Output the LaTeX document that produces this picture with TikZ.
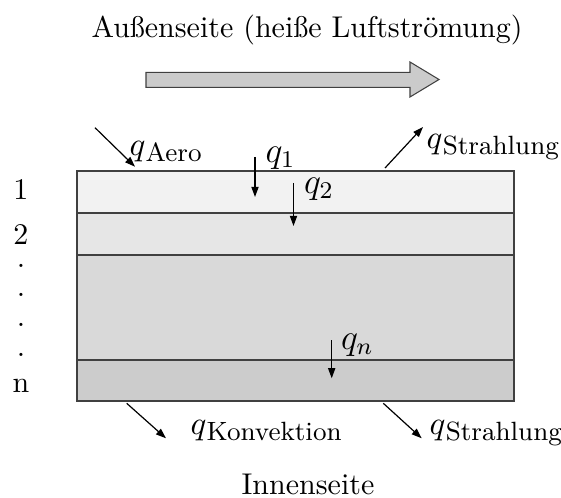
\documentclass[tikz,border=0pt]{standalone}
\usepackage{fontspec}
\usetikzlibrary{arrows.meta}
\definecolor{layerA}{HTML}{F2F2F2}
\definecolor{layerB}{HTML}{E6E6E6}
\definecolor{layerC}{HTML}{D9D9D9}
\definecolor{layerD}{HTML}{CCCCCC}
\definecolor{edge}{HTML}{404040}
\definecolor{bigfill}{HTML}{CBCBCB}
\newcommand\qlab[1]{{\fontsize{11}{13}\selectfont$q$}\kern0.1pt\raisebox{-2pt}{\fontsize{8.8}{10}\selectfont #1}}
\newcommand\qidx[1]{{\fontsize{11.5}{14}\selectfont$q_{#1}$}}
\tikzset{
  flux/.style={line width=0.4pt, -{Triangle[length=3.4pt,width=2.4pt]}},
  layer/.style={draw=edge, line width=0.6pt},
  lbl/.style={inner sep=0pt, anchor=base west},
  ctr/.style={inner sep=0pt, anchor=base},
}
\begin{document}
\begin{tikzpicture}[x=0.3333pt, y=-0.3333pt]
\useasboundingbox (0,0) rectangle (561,498);
% title
\node[ctr] (title) at (307,38) {Außenseite (heiße Luftströmung)};
% big flow arrow
\draw[draw=edge, fill=bigfill, line width=0.35pt]
  (146,72.3) -- (410,72.3) -- (410,62) -- (439,79.5) -- (410,97) -- (410,87.3) -- (146,87.3) -- cycle;
% layers
\path[layer, fill=layerA] (77,171) rectangle (514,213) node[pos=0.5, inner sep=0pt] (L1) {};
\path[layer, fill=layerB] (77,213) rectangle (514,255) node[pos=0.5, inner sep=0pt] (L2) {};
\path[layer, fill=layerC] (77,255) rectangle (514,360) node[pos=0.5, inner sep=0pt] (L3) {};
\path[layer, fill=layerD] (77,360) rectangle (514,401) node[pos=0.5, inner sep=0pt] (L4) {};
% layer numbering
\node[ctr] (n1) at (21,200) {1};
\node[ctr] (n2) at (21,245) {2};
\node[ctr] (d1) at (21,267.3) {.};
\node[ctr] (d2) at (21,296.9) {.};
\node[ctr] (d3) at (21,326.9) {.};
\node[ctr] (d4) at (21,356.9) {.};
\node[ctr] (nn) at (21,392.7) {n};
% flux arrows
\coordinate (aeroS) at (95,127.7);
\coordinate (aeroE) at (135,166.7);
\draw[flux] (aeroS) -- (aeroE);
\node[lbl] (qaero) at (129,155.5) {\qlab{Aero}};

\coordinate (q1S) at (255,157);
\coordinate (q1E) at (255,197);
\draw[flux] (q1S) -- (q1E);
\node[lbl] (q1) at (265,162.5) {\qidx{1}};

\coordinate (q2S) at (293.5,183);
\coordinate (q2E) at (293.5,226);
\draw[flux] (q2S) -- (q2E);
\node[lbl] (q2) at (303.5,193.5) {\qidx{2}};

\coordinate (srS) at (385,168);
\coordinate (srE) at (423,127);
\draw[flux] (srS) -- (srE);
\node[lbl] (qstr1) at (426,148.5) {\qlab{Strahlung}};

\coordinate (qnS) at (331.7,340);
\coordinate (qnE) at (331.7,378.3);
\draw[flux] (qnS) -- (qnE);
\node[lbl] (qn) at (340.5,349.5) {\qidx{n}};

\coordinate (konS) at (126.7,403.3);
\coordinate (konE) at (166,438.3);
\draw[flux] (konS) -- (konE);
\node[lbl] (qkon) at (190,434) {\qlab{Konvektion}};

\coordinate (sr2S) at (383.3,403.3);
\coordinate (sr2E) at (421.7,438.3);
\draw[flux] (sr2S) -- (sr2E);
\node[lbl] (qstr2) at (429,434) {\qlab{Strahlung}};

\node[ctr] (inner) at (308,494) {Innenseite};
\end{tikzpicture}
\end{document}
